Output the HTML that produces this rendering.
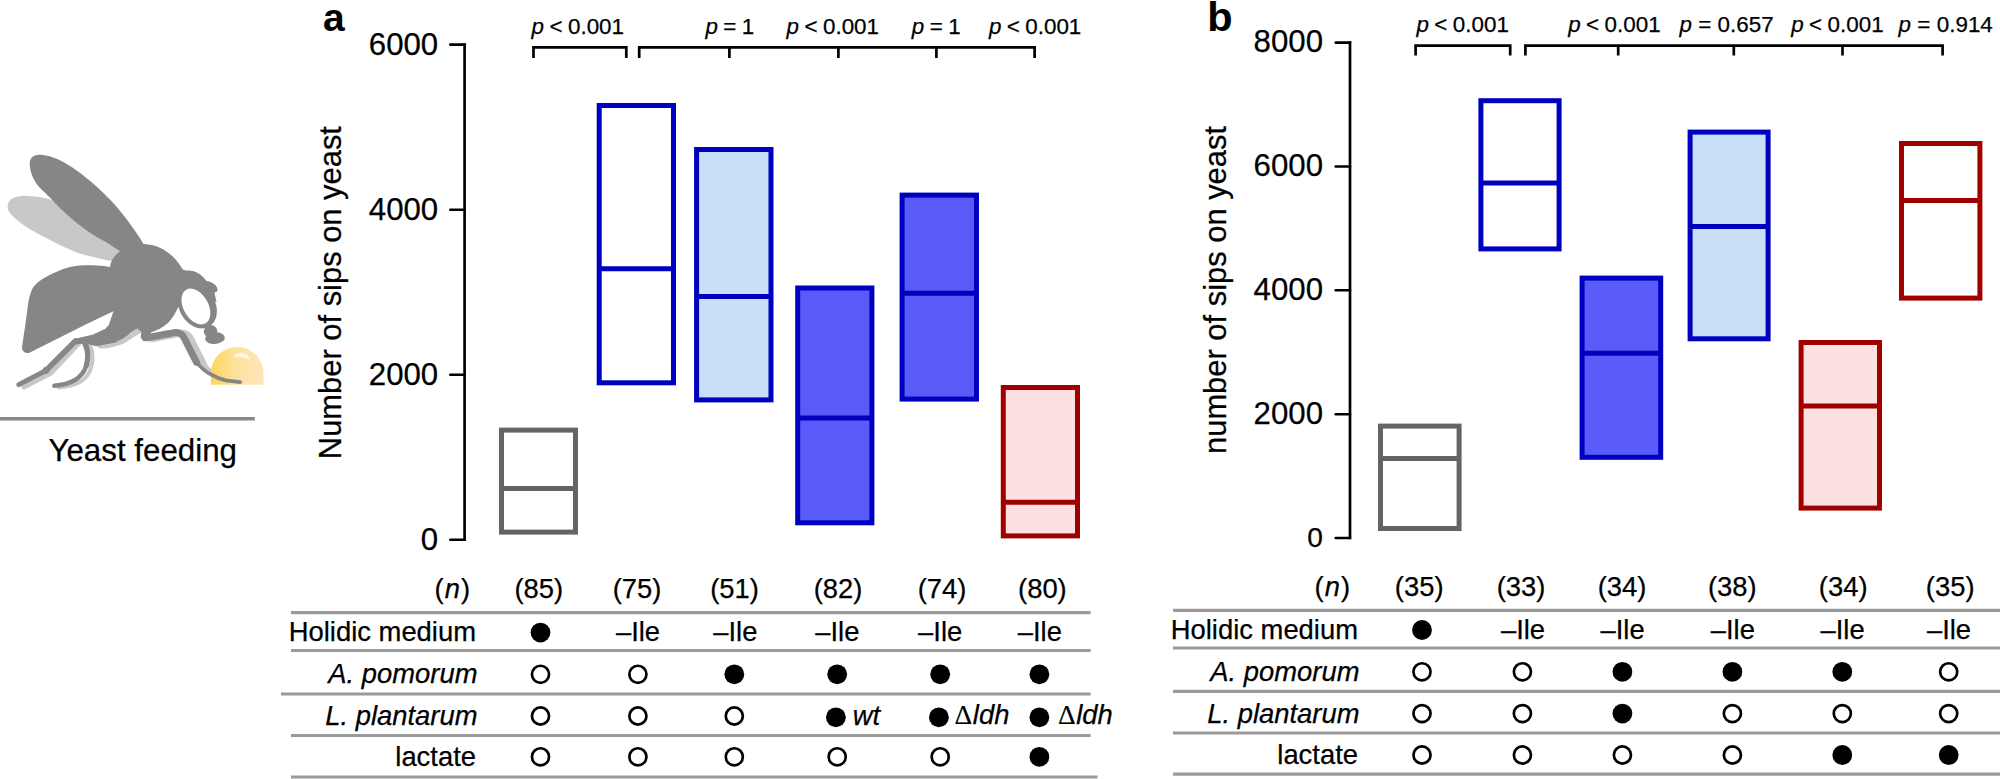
<!DOCTYPE html>
<html lang="en">
<head>
<meta charset="utf-8">
<title>Yeast feeding figure</title>
<style>
html,body{margin:0;padding:0;background:#fff;}
body{width:2000px;height:779px;overflow:hidden;}
svg{display:block;}
text{font-family:"Liberation Sans",sans-serif;fill:#000;stroke:#000;stroke-width:0.25px;}
.it{font-style:italic;}
.b{font-weight:bold;}
.tick{font-size:31.2px;}
.tb{font-size:27.4px;}
.pv{font-size:22.4px;word-spacing:-0.8px;}
.ax{stroke:#000;stroke-width:2.7;fill:none;}
.br{stroke:#000;stroke-width:2.7;fill:none;stroke-linejoin:miter;}
.hl{stroke:#9a9a9a;stroke-width:3.2;fill:none;}
</style>
</head>
<body>
<svg width="2000" height="779" viewBox="0 0 2000 779">
<rect width="2000" height="779" fill="#fff"/>

<defs>
<linearGradient id="yg" gradientUnits="userSpaceOnUse" x1="210.9" y1="0" x2="263.6" y2="0">
<stop offset="0" stop-color="#fdd65a"/>
<stop offset="0.45" stop-color="#fde29a"/>
<stop offset="1" stop-color="#fde6bd"/>
</linearGradient>
<clipPath id="yc"><rect x="200" y="340" width="80" height="44.7"/></clipPath>
</defs>
<g id="fly">
<!-- light wing -->
<path d="M7.7,207.4 C7,199 16,195.5 25,195.8 C34,196 44,197.5 52,200 L124,252 L110.7,261 C105,260 100,258.8 96.3,257.8 C89,256 83,254.6 77,252.7 C69,249.5 61,245.8 53.9,242.1 C45,237.5 36,233 28.9,228.6 C22,224.5 16,220 11.6,215.1 C9.5,212.7 8,210 7.7,207.4 Z" fill="#c8c8c6"/>
<!-- shadows -->
<g fill="none" stroke="#c8c8c6" stroke-linecap="round" stroke-linejoin="round">
<path d="M80,342 L51,373 L24,387" stroke-width="5"/>
<path d="M90,345 C93,352 93.5,360 91,368 C89,374 85,379.5 79,382.5 C73,385.5 66,387 59,387.5" stroke-width="4"/>
<path d="M100,346 C108,346 118,343.5 124,340.5 C130,337 135,333 140,330.5" stroke-width="5"/>
<path d="M152,339 L172,335 L181.5,333 C186.5,332.5 189.5,335.5 191.5,340 L199,355 L203.5,363.5" stroke-width="6.5"/>
<path d="M203.5,363 C206,367 209,370.5 213,373" stroke-width="4"/>
</g>
<!-- yeast drop -->
<path d="M210.9,384.7 V373.25 A26.35,26.35 0 0 1 263.6,373.25 V384.7 Z" fill="url(#yg)"/>
<path d="M233.4,356.4 C235.5,353 240.5,352 244.3,353.6 C247.5,355 249.6,357.6 250.4,360.4 C248,358.6 245.3,357.9 242.3,357.5 C239.2,357.1 236.2,357 233.4,356.4 Z" fill="#fff" opacity="0.72"/>
<!-- dark wing -->
<path d="M29.8,165 C29,157.5 34,154 41.4,154.8 C47,155.4 52.5,157 57.8,159.3 C64.5,162.2 71,166.3 77,170.8 C84,176 90.3,181 96.3,186.2 C103,192.4 109.5,198.6 115.5,205.5 C122.5,213.6 129,222 134.8,230.5 C138,235 141,239.5 143.5,244 L150,262 L119.4,250.7 C114.5,247.6 110,244.8 105.9,242.1 C99,238.4 92.5,234.6 86.7,230.5 C79.5,225.4 73,220.2 67.4,215.1 C61.8,210 56.7,204.8 52,199.7 C47,194.3 42.3,190.5 38.5,186.2 C35.3,182.5 33.5,178.5 31.8,174.7 C30.7,171.6 30,168.2 29.8,165 Z" fill="#868686"/>
<!-- abdomen -->
<path d="M112,267.5 C107,266 101.5,265.5 96.3,265.4 C90,265.2 83.5,265.2 77,265.8 C70.5,266.6 64,268.6 57.8,271.2 C51,274.2 44,277.6 38.5,281.8 C35,284.6 32.3,288.3 30.8,292.4 C29.3,296.6 28.5,301.2 27.9,305.8 L25,327 L22.1,346.3 C21.7,349 22.6,351 24.1,352 C25.6,353 27.2,353.4 28.9,353 L57.8,338.6 L86.7,324.1 L116,310 Z" fill="#868686"/>
<!-- thorax / body -->
<path d="M119,252 C124,246 134,243.5 143,244 C153,244.2 162,247.5 169.3,253.5 C174,257.5 177.5,261.5 179.5,264.4 C181,266.5 182.3,268.8 183.1,270.8 L192,290 L177.6,308.5 C175,314 172,319 168,323 C163,327.5 157,330.5 150.5,332.5 L146,335 L141.6,331 L138,328.4 C135,329.5 133,331 131,332.4 C127,336 122,339.5 118.2,340.8 L115.5,342.4 L96.3,346.3 L84.7,343.2 L77,344.4 L73.2,343.3 L73.4,339.2 L77,338.2 L92.4,334.7 L105,329 L108.8,325 L113.6,310.7 L110,268 C110,262 114,256 119,252 Z" fill="#868686"/>
<path d="M137,328.6 L151,332 L149,340.6 L143.5,341.3 L140.6,337.5 L141.4,332 Z" fill="#868686"/>
<!-- head cap -->
<path d="M182,268 C183,270.5 185.5,270.6 188.5,270.5 C192,270.5 195.5,271.8 198.8,273.6 C202,275.6 204.5,278.5 206.5,281 C208.5,281.5 210,281.6 211.6,282.4 C214,283.5 215.8,285 216.8,286.9 C218,289.5 217.6,291.5 216.1,292 L214.4,292.6 L216.5,302 L204,300 L186,287 Z" fill="#868686"/>
<!-- head ring + eye -->
<ellipse cx="197.3" cy="306" rx="18" ry="23.8" transform="rotate(-30 197.3 306)" fill="#868686"/>
<ellipse cx="195.9" cy="306.5" rx="12.3" ry="19.4" transform="rotate(-30 195.9 306.5)" fill="#fff"/>
<!-- proboscis -->
<ellipse cx="210.6" cy="331.3" rx="6.8" ry="6.2" fill="#868686"/>
<ellipse cx="215" cy="338.2" rx="9.9" ry="5.8" transform="rotate(-6 215 338.2)" fill="#868686"/>
<!-- legs -->
<g fill="none" stroke="#868686" stroke-linecap="round" stroke-linejoin="round">
<path d="M75.5,341 L46,370.5" stroke-width="5.6"/>
<path d="M46,370.5 L18.8,384.6" stroke-width="4.9"/>
<path d="M85,343.5 C88,350 88.6,358 86.4,365.5" stroke-width="5.4"/>
<path d="M86.4,365.5 C84.5,371.5 81,376.5 75,380 C69,383.5 61,385.3 54.3,385.8" stroke-width="4.4"/>
<path d="M147,337.8 L165.5,334.3 L175,332.6" stroke-width="7"/>
<path d="M175,332.6 C180,332 183,335 185,339.5 L192.5,354.5 L196.6,362.4" stroke-width="7"/>
<path d="M197,362.5 C201,368 206,372 211.5,374.7 C216,377.5 221,379.5 225.6,380.4 L240.2,382.1" stroke-width="3.8"/>
</g>
<circle cx="46" cy="370.3" r="3.4" fill="#868686"/>
</g>
<line x1="0" y1="418.8" x2="254.8" y2="418.8" stroke="#888" stroke-width="3.6"/>
<text x="142.7" y="461.3" text-anchor="middle" style="font-size:31.3px">Yeast feeding</text>

<g id="panel-a">
<text class="b" x="323" y="31" style="font-size:39px;stroke:none">a</text>
<text class="tick" style="font-size:30.9px" transform="translate(341.4,292.6) rotate(-90)" text-anchor="middle">Number of sips on yeast</text>
<path class="ax" d="M464.60,43.25 V541.05"/>
<line x1="450.30" y1="44.60" x2="464.60" y2="44.60" stroke="#000" stroke-width="2.6" stroke-linecap="round"/>
<text class="tick" x="438.20" y="55.20" text-anchor="end">6000</text>
<line x1="450.30" y1="209.80" x2="464.60" y2="209.80" stroke="#000" stroke-width="2.6" stroke-linecap="round"/>
<text class="tick" x="438.20" y="220.40" text-anchor="end">4000</text>
<line x1="450.30" y1="374.70" x2="464.60" y2="374.70" stroke="#000" stroke-width="2.6" stroke-linecap="round"/>
<text class="tick" x="438.20" y="385.30" text-anchor="end">2000</text>
<line x1="450.30" y1="539.70" x2="464.60" y2="539.70" stroke="#000" stroke-width="2.6" stroke-linecap="round"/>
<text class="tick" x="438.20" y="550.30" text-anchor="end">0</text>
<path class="br" d="M533.5,58 V47.4 H626.3 V58"/>
<path class="br" d="M639.2,58 V47.4 H1034.6 V58 M729.4,47.4 V58 M838.4,47.4 V58 M936.4,47.4 V58"/>
<text class="pv" x="531.60" y="34.00"><tspan class="it">p</tspan> &lt; 0.001</text>
<text class="pv" x="705.50" y="34.00"><tspan class="it">p</tspan> = 1</text>
<text class="pv" x="786.60" y="34.00"><tspan class="it">p</tspan> &lt; 0.001</text>
<text class="pv" x="911.80" y="34.00"><tspan class="it">p</tspan> = 1</text>
<text class="pv" x="988.90" y="34.00"><tspan class="it">p</tspan> &lt; 0.001</text>
<rect x="501.50" y="430.10" width="74.00" height="102.00" fill="#fff" stroke="#646464" stroke-width="5.00"/>
<line x1="501.50" y1="488.40" x2="575.50" y2="488.40" stroke="#646464" stroke-width="5.00"/>
<rect x="599.20" y="105.50" width="74.30" height="277.30" fill="#fff" stroke="#0000bf" stroke-width="5.00"/>
<line x1="599.20" y1="268.70" x2="673.50" y2="268.70" stroke="#0000bf" stroke-width="5.00"/>
<rect x="696.60" y="149.50" width="74.40" height="250.40" fill="#c9def7" stroke="#0000bf" stroke-width="5.00"/>
<line x1="696.60" y1="296.50" x2="771.00" y2="296.50" stroke="#0000bf" stroke-width="5.00"/>
<rect x="797.70" y="288.00" width="74.20" height="234.80" fill="#5a5af9" stroke="#0000bf" stroke-width="5.00"/>
<line x1="797.70" y1="418.00" x2="871.90" y2="418.00" stroke="#0000bf" stroke-width="5.00"/>
<rect x="902.10" y="195.10" width="74.40" height="204.00" fill="#5a5af9" stroke="#0000bf" stroke-width="5.00"/>
<line x1="902.10" y1="293.20" x2="976.50" y2="293.20" stroke="#0000bf" stroke-width="5.00"/>
<rect x="1003.30" y="387.50" width="74.20" height="148.40" fill="#fde0e1" stroke="#a00000" stroke-width="5.00"/>
<line x1="1003.30" y1="502.20" x2="1077.50" y2="502.20" stroke="#a00000" stroke-width="5.00"/>
<text class="tb" x="538.80" y="598.4" text-anchor="middle">(85)</text>
<text class="tb" x="637.00" y="598.4" text-anchor="middle">(75)</text>
<text class="tb" x="734.50" y="598.4" text-anchor="middle">(51)</text>
<text class="tb" x="838.00" y="598.4" text-anchor="middle">(82)</text>
<text class="tb" x="942.00" y="598.4" text-anchor="middle">(74)</text>
<text class="tb" x="1042.40" y="598.4" text-anchor="middle">(80)</text>
<text class="tb" x="470" y="598.4" text-anchor="end">(<tspan class="it" dx="1.1">n</tspan><tspan dx="1">)</tspan></text>
<line class="hl" x1="291.00" y1="612.70" x2="1090.60" y2="612.70"/>
<line class="hl" x1="291.00" y1="650.50" x2="1090.60" y2="650.50"/>
<line class="hl" x1="281.00" y1="694.00" x2="1090.60" y2="694.00"/>
<line class="hl" x1="291.00" y1="735.50" x2="1090.60" y2="735.50"/>
<line class="hl" x1="291.00" y1="777.00" x2="1097.50" y2="777.00"/>
<text class="tb" x="476" y="641" text-anchor="end">Holidic medium</text>
<text class="tb it" x="477.5" y="683" text-anchor="end">A. pomorum</text>
<text class="tb it" x="477.5" y="725" text-anchor="end">L. plantarum</text>
<text class="tb" x="476" y="766" text-anchor="end">lactate</text>
<circle cx="540.50" cy="632.60" r="9.9" fill="#000"/>
<text class="tb" x="638.00" y="641" text-anchor="middle">–Ile</text>
<text class="tb" x="735.30" y="641" text-anchor="middle">–Ile</text>
<text class="tb" x="837.30" y="641" text-anchor="middle">–Ile</text>
<text class="tb" x="940.20" y="641" text-anchor="middle">–Ile</text>
<text class="tb" x="1039.80" y="641" text-anchor="middle">–Ile</text>
<circle cx="540.50" cy="674.30" r="8.55" fill="#fff" stroke="#000" stroke-width="2.7"/>
<circle cx="637.90" cy="674.30" r="8.55" fill="#fff" stroke="#000" stroke-width="2.7"/>
<circle cx="734.30" cy="674.30" r="9.9" fill="#000"/>
<circle cx="837.20" cy="674.30" r="9.9" fill="#000"/>
<circle cx="940.20" cy="674.30" r="9.9" fill="#000"/>
<circle cx="1039.40" cy="674.30" r="9.9" fill="#000"/>
<circle cx="540.50" cy="716.00" r="8.55" fill="#fff" stroke="#000" stroke-width="2.7"/>
<circle cx="637.90" cy="716.00" r="8.55" fill="#fff" stroke="#000" stroke-width="2.7"/>
<circle cx="734.30" cy="716.00" r="8.55" fill="#fff" stroke="#000" stroke-width="2.7"/>
<circle cx="835.90" cy="717.30" r="9.9" fill="#000"/>
<circle cx="938.90" cy="717.30" r="9.9" fill="#000"/>
<circle cx="1039.40" cy="717.30" r="9.9" fill="#000"/>
<circle cx="540.50" cy="756.80" r="8.55" fill="#fff" stroke="#000" stroke-width="2.7"/>
<circle cx="637.90" cy="756.80" r="8.55" fill="#fff" stroke="#000" stroke-width="2.7"/>
<circle cx="734.30" cy="756.80" r="8.55" fill="#fff" stroke="#000" stroke-width="2.7"/>
<circle cx="837.20" cy="756.80" r="8.55" fill="#fff" stroke="#000" stroke-width="2.7"/>
<circle cx="940.20" cy="756.80" r="8.55" fill="#fff" stroke="#000" stroke-width="2.7"/>
<circle cx="1039.40" cy="756.80" r="9.9" fill="#000"/>
<text class="tb it" x="852.8" y="725.2">wt</text>
<text class="tb" x="954.6" y="723.8"><tspan style="font-family:'Liberation Serif',serif;stroke-width:0.2px">Δ</tspan><tspan class="it" dx="0.6">ldh</tspan></text>
<text class="tb" x="1058" y="723.8"><tspan style="font-family:'Liberation Serif',serif;stroke-width:0.2px">Δ</tspan><tspan class="it" dx="0.6">ldh</tspan></text>
</g>
<g id="panel-b">
<text class="b" x="1207.3" y="30.6" style="font-size:41.5px;stroke:none">b</text>
<text class="tick" style="font-size:30.9px" transform="translate(1226.4,290) rotate(-90)" text-anchor="middle">number of sips on yeast</text>
<path class="ax" d="M1350.00,41.25 V539.35"/>
<line x1="1335.70" y1="42.60" x2="1350.00" y2="42.60" stroke="#000" stroke-width="2.6" stroke-linecap="round"/>
<text class="tick" x="1323.00" y="52.40" text-anchor="end">8000</text>
<line x1="1335.70" y1="166.50" x2="1350.00" y2="166.50" stroke="#000" stroke-width="2.6" stroke-linecap="round"/>
<text class="tick" x="1323.00" y="176.30" text-anchor="end">6000</text>
<line x1="1335.70" y1="290.30" x2="1350.00" y2="290.30" stroke="#000" stroke-width="2.6" stroke-linecap="round"/>
<text class="tick" x="1323.00" y="300.10" text-anchor="end">4000</text>
<line x1="1335.70" y1="414.20" x2="1350.00" y2="414.20" stroke="#000" stroke-width="2.6" stroke-linecap="round"/>
<text class="tick" x="1323.00" y="424.00" text-anchor="end">2000</text>
<line x1="1335.70" y1="538.00" x2="1350.00" y2="538.00" stroke="#000" stroke-width="2.6" stroke-linecap="round"/>
<text class="tick" style="font-size:28.1px" x="1322.90" y="547.20" text-anchor="end">0</text>
<path class="br" d="M1415.6,55.6 V45.6 H1510.2 V55.6"/>
<path class="br" d="M1525.4,55.6 V45.6 H1942.6 V55.6 M1618.2,45.6 V55.6 M1733.8,45.6 V55.6 M1842.5,45.6 V55.6"/>
<text class="pv" x="1416.50" y="32.40"><tspan class="it">p</tspan> &lt; 0.001</text>
<text class="pv" x="1568.20" y="32.40"><tspan class="it">p</tspan> &lt; 0.001</text>
<text class="pv" style="word-spacing:0.00px" x="1679.60" y="32.40"><tspan class="it">p</tspan> = 0.657</text>
<text class="pv" x="1791.20" y="32.40"><tspan class="it">p</tspan> &lt; 0.001</text>
<text class="pv" style="word-spacing:0.10px" x="1898.60" y="32.40"><tspan class="it">p</tspan> = 0.914</text>
<rect x="1380.50" y="426.10" width="78.60" height="102.40" fill="#fff" stroke="#646464" stroke-width="5.00"/>
<line x1="1380.50" y1="458.60" x2="1459.10" y2="458.60" stroke="#646464" stroke-width="5.00"/>
<rect x="1480.90" y="100.70" width="78.20" height="148.20" fill="#fff" stroke="#0000bf" stroke-width="5.00"/>
<line x1="1480.90" y1="182.90" x2="1559.10" y2="182.90" stroke="#0000bf" stroke-width="5.00"/>
<rect x="1582.10" y="278.10" width="78.60" height="179.20" fill="#5a5af9" stroke="#0000bf" stroke-width="5.00"/>
<line x1="1582.10" y1="353.20" x2="1660.70" y2="353.20" stroke="#0000bf" stroke-width="5.00"/>
<rect x="1690.10" y="132.10" width="78.00" height="206.70" fill="#c9def7" stroke="#0000bf" stroke-width="5.00"/>
<line x1="1690.10" y1="226.60" x2="1768.10" y2="226.60" stroke="#0000bf" stroke-width="5.00"/>
<rect x="1801.10" y="342.50" width="78.40" height="165.60" fill="#fde0e1" stroke="#a00000" stroke-width="5.00"/>
<line x1="1801.10" y1="406.00" x2="1879.50" y2="406.00" stroke="#a00000" stroke-width="5.00"/>
<rect x="1901.50" y="143.50" width="78.40" height="154.60" fill="#fff" stroke="#a00000" stroke-width="5.00"/>
<line x1="1901.50" y1="200.40" x2="1979.90" y2="200.40" stroke="#a00000" stroke-width="5.00"/>
<text class="tb" x="1419.20" y="596.1" text-anchor="middle">(35)</text>
<text class="tb" x="1521.00" y="596.1" text-anchor="middle">(33)</text>
<text class="tb" x="1622.00" y="596.1" text-anchor="middle">(34)</text>
<text class="tb" x="1732.30" y="596.1" text-anchor="middle">(38)</text>
<text class="tb" x="1843.20" y="596.1" text-anchor="middle">(34)</text>
<text class="tb" x="1950.20" y="596.1" text-anchor="middle">(35)</text>
<text class="tb" x="1350" y="596.1" text-anchor="end">(<tspan class="it" dx="1.1">n</tspan><tspan dx="1">)</tspan></text>
<line class="hl" x1="1173" y1="610.30" x2="2000" y2="610.30"/>
<line class="hl" x1="1173" y1="648.00" x2="2000" y2="648.00"/>
<line class="hl" x1="1173" y1="691.40" x2="2000" y2="691.40"/>
<line class="hl" x1="1173" y1="733.00" x2="2000" y2="733.00"/>
<line class="hl" x1="1173" y1="774.20" x2="2000" y2="774.20"/>
<text class="tb" x="1358" y="638.8" text-anchor="end">Holidic medium</text>
<text class="tb it" x="1359.5" y="681" text-anchor="end">A. pomorum</text>
<text class="tb it" x="1359.5" y="722.5" text-anchor="end">L. plantarum</text>
<text class="tb" x="1358" y="764" text-anchor="end">lactate</text>
<circle cx="1422.00" cy="630.00" r="9.9" fill="#000"/>
<text class="tb" x="1523.00" y="639.2" text-anchor="middle">–Ile</text>
<text class="tb" x="1622.60" y="639.2" text-anchor="middle">–Ile</text>
<text class="tb" x="1732.80" y="639.2" text-anchor="middle">–Ile</text>
<text class="tb" x="1842.60" y="639.2" text-anchor="middle">–Ile</text>
<text class="tb" x="1949.00" y="639.2" text-anchor="middle">–Ile</text>
<circle cx="1422.00" cy="671.80" r="8.55" fill="#fff" stroke="#000" stroke-width="2.7"/>
<circle cx="1522.40" cy="671.80" r="8.55" fill="#fff" stroke="#000" stroke-width="2.7"/>
<circle cx="1622.40" cy="671.80" r="9.9" fill="#000"/>
<circle cx="1732.40" cy="671.80" r="9.9" fill="#000"/>
<circle cx="1842.30" cy="671.80" r="9.9" fill="#000"/>
<circle cx="1948.70" cy="671.80" r="8.55" fill="#fff" stroke="#000" stroke-width="2.7"/>
<circle cx="1422.00" cy="713.60" r="8.55" fill="#fff" stroke="#000" stroke-width="2.7"/>
<circle cx="1522.40" cy="713.60" r="8.55" fill="#fff" stroke="#000" stroke-width="2.7"/>
<circle cx="1622.40" cy="713.60" r="9.9" fill="#000"/>
<circle cx="1732.40" cy="713.60" r="8.55" fill="#fff" stroke="#000" stroke-width="2.7"/>
<circle cx="1842.30" cy="713.60" r="8.55" fill="#fff" stroke="#000" stroke-width="2.7"/>
<circle cx="1948.70" cy="713.60" r="8.55" fill="#fff" stroke="#000" stroke-width="2.7"/>
<circle cx="1422.00" cy="755.00" r="8.55" fill="#fff" stroke="#000" stroke-width="2.7"/>
<circle cx="1522.40" cy="755.00" r="8.55" fill="#fff" stroke="#000" stroke-width="2.7"/>
<circle cx="1622.40" cy="755.00" r="8.55" fill="#fff" stroke="#000" stroke-width="2.7"/>
<circle cx="1732.40" cy="755.00" r="8.55" fill="#fff" stroke="#000" stroke-width="2.7"/>
<circle cx="1842.30" cy="755.00" r="9.9" fill="#000"/>
<circle cx="1948.70" cy="755.00" r="9.9" fill="#000"/>
</g>
</svg>
</body>
</html>
